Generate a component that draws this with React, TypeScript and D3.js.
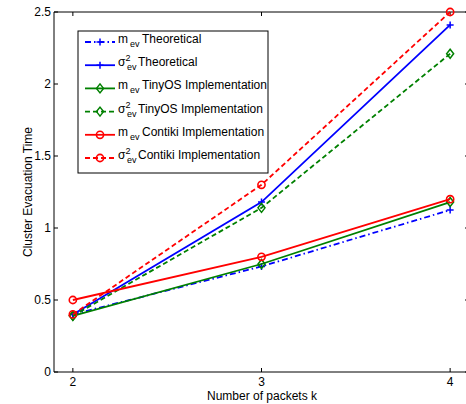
import React from "react";
import * as d3 from "d3";

const packets = [2, 3, 4];
const mTheoretical = [0.4, 0.733, 1.125];
const vTheoretical = [0.4, 1.18, 2.41];
const mTinyOS = [0.39, 0.75, 1.18];
const vTinyOS = [0.39, 1.14, 2.21];
const mContiki = [0.5, 0.8, 1.2];
const vContiki = [0.4, 1.3, 2.5];
const xTicks = [2, 3, 4];
const yTicks = [0, 0.5, 1, 1.5, 2, 2.5];

type Series = {
  sym: "m" | "s";
  label: string;
  values: number[];
  color: string;
  dash: string;
  marker: "plus" | "diamond" | "circle";
};

const series: Series[] = [
  { sym: "m", label: "Theoretical", values: mTheoretical, color: "#0000ff", dash: "6,3,1.5,3", marker: "plus" },
  { sym: "s", label: "Theoretical", values: vTheoretical, color: "#0000ff", dash: "", marker: "plus" },
  { sym: "m", label: "TinyOS Implementation", values: mTinyOS, color: "#008000", dash: "", marker: "diamond" },
  { sym: "s", label: "TinyOS Implementation", values: vTinyOS, color: "#008000", dash: "5,3", marker: "diamond" },
  { sym: "m", label: "Contiki Implementation", values: mContiki, color: "#ff0000", dash: "", marker: "circle" },
  { sym: "s", label: "Contiki Implementation", values: vContiki, color: "#ff0000", dash: "5,3", marker: "circle" },
];

const W = 466;
const H = 404;
const left = 54;
const top = 12;
const bottom = 372;
const right = 469;

const x = d3.scaleLinear().domain([1.9, 4.1]).range([left, right]);
const y = d3.scaleLinear().domain([0, 2.5]).range([bottom, top]);

function Marker({ kind, cx, cy, color }: { kind: string; cx: number; cy: number; color: string }) {
  if (kind === "plus") {
    return (
      <path d={`M${cx - 3.5},${cy}H${cx + 3.5}M${cx},${cy - 3.5}V${cy + 3.5}`} stroke={color} strokeWidth={1.5} fill="none" />
    );
  }
  if (kind === "diamond") {
    return (
      <path d={`M${cx},${cy - 4.5}L${cx + 3.5},${cy}L${cx},${cy + 4.5}L${cx - 3.5},${cy}Z`} stroke={color} strokeWidth={1.5} fill="none" />
    );
  }
  return <circle cx={cx} cy={cy} r={3.6} stroke={color} strokeWidth={1.6} fill="none" />;
}

function SymLabel({ sym, label, tx, ty }: { sym: string; label: string; tx: number; ty: number }) {
  const fs = 12;
  if (sym === "m") {
    return (
      <g>
        <text x={tx} y={ty} fontSize={fs}>m</text>
        <text x={tx + 12} y={ty + 4} fontSize={9}>ev</text>
        <text x={tx + 24} y={ty} fontSize={fs}>{label}</text>
      </g>
    );
  }
  return (
    <g>
      <text x={tx} y={ty} fontSize={fs}>σ</text>
      <text x={tx + 7.5} y={ty - 5} fontSize={9}>2</text>
      <text x={tx + 9} y={ty + 4} fontSize={9}>ev</text>
      <text x={tx + 20} y={ty} fontSize={fs}>{label}</text>
    </g>
  );
}

export default function App() {
  const line = d3
    .line<number>()
    .x((_, i) => x(packets[i]))
    .y((d) => y(d));

  const legX = 78;
  const legY = 31;
  const legW = 190;
  const legH = 142;
  const rowH = 23.2;

  return (
    <svg
      width={W}
      height={H}
      style={{ position: "absolute", left: 0, top: 0, background: "#fff" }}
      fontFamily="'Liberation Sans', Arial, Helvetica, sans-serif"
    >
      <defs>
        <clipPath id="plotclip">
          <rect x={left} y={top - 6} width={right - left + 6} height={bottom - top + 12} />
        </clipPath>
      </defs>
      <rect x={0} y={0} width={W} height={H} fill="#fff" />
      {/* axes box */}
      <path d={`M${left},${top}H${right}M${left},${top}V${bottom}H${right}M${right},${top}V${bottom}`} stroke="#000" strokeWidth={1} fill="none" />
      {/* ticks */}
      {yTicks.map((t) => (
        <g key={"y" + t}>
          <line x1={left} x2={left + 4} y1={y(t)} y2={y(t)} stroke="#000" />
          <line x1={right - 4} x2={right} y1={y(t)} y2={y(t)} stroke="#000" />
          <text x={left - 3} y={y(t) + 4} fontSize={12} textAnchor="end">{String(t)}</text>
        </g>
      ))}
      {xTicks.map((t) => (
        <g key={"x" + t}>
          <line x1={x(t)} x2={x(t)} y1={bottom} y2={bottom - 4} stroke="#000" />
          <line x1={x(t)} x2={x(t)} y1={top} y2={top + 4} stroke="#000" />
          <text x={x(t)} y={bottom + 14} fontSize={12} textAnchor="middle">{String(t)}</text>
        </g>
      ))}
      <text x={262} y={400} fontSize={12} textAnchor="middle">Number of packets k</text>
      <text transform={`translate(32,${(top + bottom) / 2}) rotate(-90)`} fontSize={12} textAnchor="middle">Cluster Evacuation Time</text>

      {/* series */}
      <g clipPath="url(#plotclip)">
        {series.map((s, si) => (
          <g key={si}>
            <path d={line(s.values) || ""} stroke={s.color} strokeWidth={1.8} fill="none" strokeDasharray={s.dash || undefined} />
            {s.values.map((v, i) => (
              <Marker key={i} kind={s.marker} cx={x(packets[i])} cy={y(v)} color={s.color} />
            ))}
          </g>
        ))}
      </g>

      {/* legend */}
      <rect x={legX} y={legY} width={legW} height={legH} fill="#fff" stroke="#000" strokeWidth={1} />
      {series.map((s, si) => {
        const cy = legY + 11 + si * rowH;
        return (
          <g key={"l" + si}>
            <line x1={85} x2={115} y1={cy} y2={cy} stroke={s.color} strokeWidth={1.8} strokeDasharray={s.dash || undefined} />
            <Marker kind={s.marker} cx={100} cy={cy} color={s.color} />
            <SymLabel sym={s.sym} label={s.label} tx={118} ty={cy + 1} />
          </g>
        );
      })}
    </svg>
  );
}
